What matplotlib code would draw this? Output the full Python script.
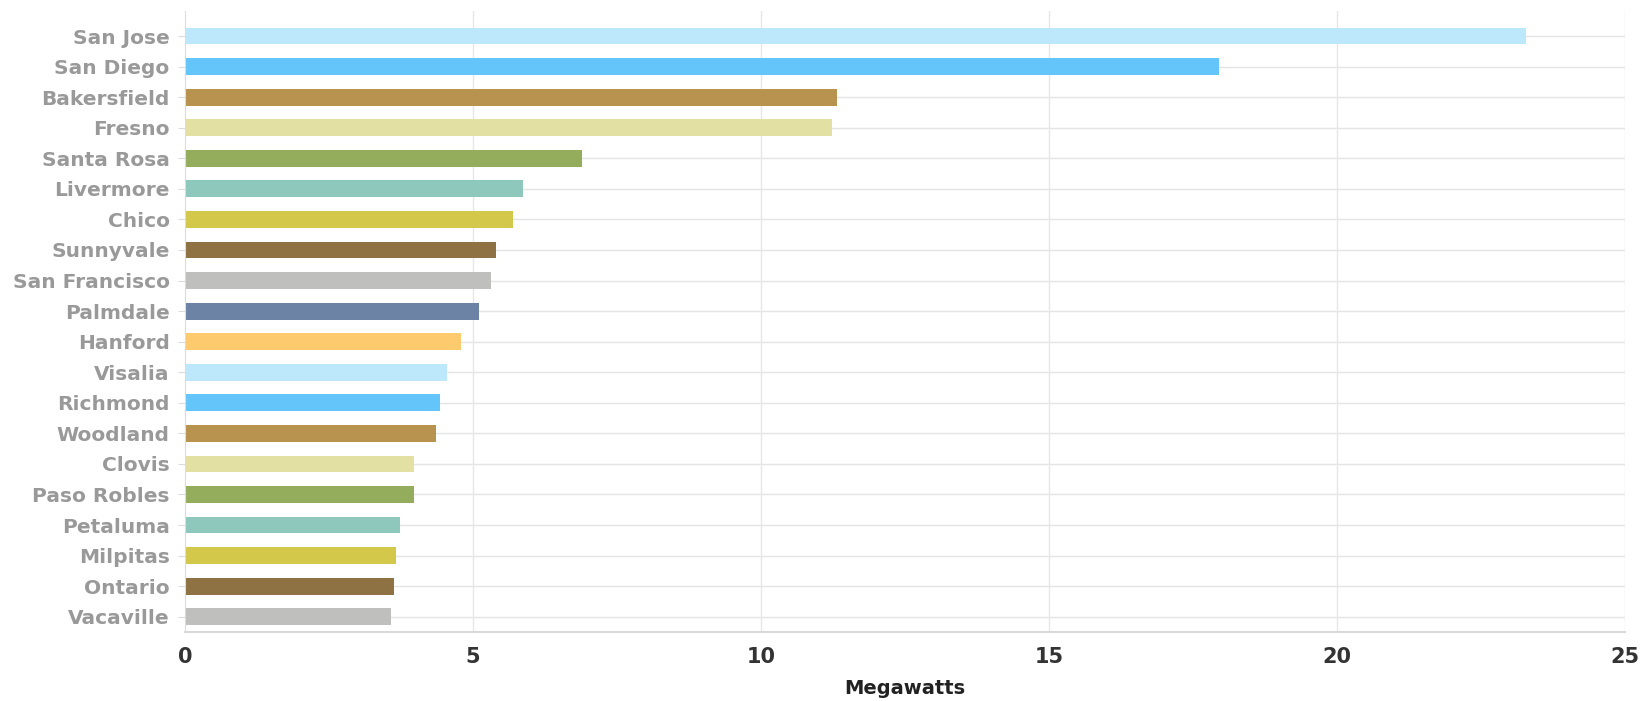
import matplotlib
matplotlib.use("Agg")
import matplotlib.pyplot as plt

cities = ["San Jose", "San Diego", "Bakersfield", "Fresno", "Santa Rosa", "Livermore",
          "Chico", "Sunnyvale", "San Francisco", "Palmdale", "Hanford", "Visalia",
          "Richmond", "Woodland", "Clovis", "Paso Robles", "Petaluma", "Milpitas",
          "Ontario", "Vacaville"]
megawatts = [23.28, 17.95, 11.32, 11.23, 6.89, 5.87, 5.69, 5.40, 5.31, 5.10, 4.80,
             4.54, 4.43, 4.35, 3.97, 3.97, 3.74, 3.66, 3.62, 3.57]
palette = ["#bde8fb", "#63c5fa", "#b8924f", "#e3e0a4", "#93ad5c", "#8ec8bd",
           "#d4c84a", "#8e7243", "#bfbfbd", "#6c83a6", "#fdca6e"]
xticks = [0, 5, 10, 15, 20, 25]
xlabel = "Megawatts"

fig = plt.figure(figsize=(16.51, 7.01), dpi=100)
ax = fig.add_axes([185/1651, 1-632/701, (1625-185)/1651, (632-11)/701])

ypos = list(range(len(cities)))
colors = [palette[i % len(palette)] for i in ypos]

# horizontal gridlines at category centers
for y in ypos:
    ax.axhline(y, color="#e4e4e4", lw=1.0, zorder=0)
for x in xticks[1:]:
    ax.axvline(x, color="#e6e6e6", lw=1.0, zorder=0)

ax.barh(ypos, megawatts, height=0.55, color=colors, zorder=2)

ax.set_xlim(0, 25)
ax.set_ylim(19.5, -0.82)
ax.set_xticks(xticks)
ax.set_xticklabels([str(t) for t in xticks])
ax.set_yticks(ypos)
ax.set_yticklabels(cities)

for s in ["top", "right"]:
    ax.spines[s].set_visible(False)
ax.spines["left"].set_color("#dcdcdc")
ax.spines["bottom"].set_color("#d8d8d8")
ax.spines["bottom"].set_linewidth(1.5)

ax.tick_params(axis="y", length=5, color="#dcdcdc", pad=6, labelsize=14.5,
               labelcolor="#999999")
ax.tick_params(axis="x", length=0, pad=11, labelsize=15, labelcolor="#333333")
for lab in ax.get_yticklabels() + ax.get_xticklabels():
    lab.set_fontweight("bold")

ax.set_xlabel(xlabel, fontsize=14, fontweight="bold", color="#222222", labelpad=8.5)

fig.savefig("out.png", dpi=100)
